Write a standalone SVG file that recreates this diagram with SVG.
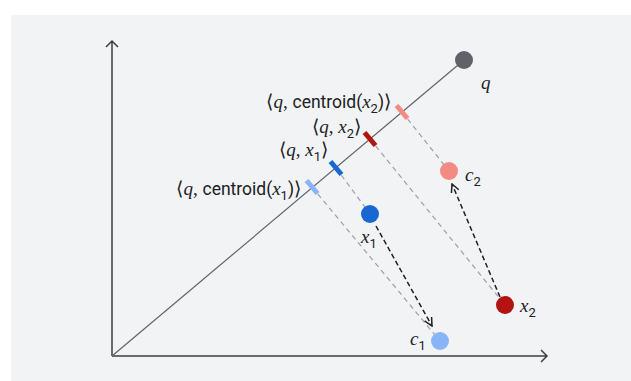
<svg xmlns="http://www.w3.org/2000/svg" width="631" height="381" viewBox="0 0 631 381">
<defs>
<style>
.axis{stroke:#3c4043;stroke-width:1.5;fill:none}
.diag{stroke:#5f6368;stroke-width:1.2;fill:none}
.proj{stroke:#9aa0a6;stroke-width:1.2;stroke-dasharray:5 4;fill:none}
.move{stroke:#202124;stroke-width:1.5;stroke-dasharray:5 3;fill:none}
.tick{stroke-width:5;fill:none}
.m{font-family:"Liberation Serif",serif;font-style:italic;font-size:19px;fill:#202124}
.s{font-family:Roboto,"Liberation Sans",sans-serif;font-style:normal;font-size:17.5px;fill:#202124}
.b{font-family:"Liberation Serif",serif;font-style:normal;font-size:19px;fill:#202124}
.sub{font-family:Roboto,"Liberation Sans",sans-serif;font-style:normal;font-size:13px;fill:#202124}
</style>
<marker id="ah" viewBox="0 0 10 10" refX="9" refY="5" markerWidth="10" markerHeight="10" markerUnits="userSpaceOnUse" orient="auto">
<path d="M1,1 L9,5 L1,9" fill="none" stroke="#202124" stroke-width="1.5"/>
</marker>
</defs>
<rect x="0" y="0" width="631" height="381" fill="#ffffff"/>
<rect x="11" y="15" width="620" height="366" fill="#f1f3f4"/>
<g id="axes">
<path class="axis" d="M112,356 V41 M106,47 L112,41 L118,47"/>
<path class="axis" d="M112,356 H547 M541,350 L547,356 L541,362"/>
</g>
<g id="connectors">
<line class="diag" x1="112" y1="356" x2="464" y2="60"/>
<line class="proj" x1="312" y1="187" x2="440" y2="341"/>
<line class="proj" x1="336" y1="168" x2="370" y2="214"/>
<line class="proj" x1="370" y1="139" x2="505" y2="305"/>
<line class="proj" x1="402" y1="112" x2="449" y2="171"/>
<line class="move" x1="376" y1="226" x2="432" y2="326" marker-end="url(#ah)"/>
<line class="move" x1="500" y1="297" x2="452" y2="184" marker-end="url(#ah)"/>
</g>
<g id="ticks">
<line class="tick" stroke="#8ab4f8" x1="306.5" y1="180.5" x2="317.5" y2="193.5"/>
<line class="tick" stroke="#1967d2" x1="330.5" y1="161.5" x2="341.5" y2="174.5"/>
<line class="tick" stroke="#b31412" x1="364.5" y1="132.5" x2="375.5" y2="145.5"/>
<line class="tick" stroke="#f28b82" x1="396.5" y1="105.5" x2="407.5" y2="118.5"/>
</g>
<g id="q">
<circle cx="464" cy="60" r="9" fill="#5f6368"/>
<text class="m" x="481" y="89">q</text>
</g>
<g id="x1">
<circle cx="370" cy="214" r="9" fill="#1967d2"/>
<text class="m" x="361" y="243">x<tspan class="sub" dy="5">1</tspan></text>
</g>
<g id="c1">
<circle cx="440" cy="341" r="9" fill="#8ab4f8"/>
<text class="m" x="410" y="345">c<tspan class="sub" dy="5">1</tspan></text>
</g>
<g id="x2">
<circle cx="505" cy="305" r="9" fill="#b31412"/>
<text class="m" x="520" y="312">x<tspan class="sub" dy="5">2</tspan></text>
</g>
<g id="c2">
<circle cx="449" cy="171" r="9" fill="#f28b82"/>
<text class="m" x="465" y="181">c<tspan class="sub" dy="5">2</tspan></text>
</g>
<g id="label-centroid-x2">
<text class="b" x="391" y="108" text-anchor="end">⟨<tspan class="m">q</tspan>, <tspan class="s">centroid(</tspan><tspan class="m">x</tspan><tspan class="sub" dy="5">2</tspan><tspan class="s" dy="-5">)</tspan>⟩</text>
</g>
<g id="label-x2">
<text class="b" x="361" y="133" text-anchor="end">⟨<tspan class="m">q</tspan>, <tspan class="m">x</tspan><tspan class="sub" dy="5">2</tspan><tspan dy="-5">⟩</tspan></text>
</g>
<g id="label-x1">
<text class="b" x="328" y="156" text-anchor="end">⟨<tspan class="m">q</tspan>, <tspan class="m">x</tspan><tspan class="sub" dy="5">1</tspan><tspan dy="-5">⟩</tspan></text>
</g>
<g id="label-centroid-x1">
<text class="b" x="301" y="195" text-anchor="end">⟨<tspan class="m">q</tspan>, <tspan class="s">centroid(</tspan><tspan class="m">x</tspan><tspan class="sub" dy="5">1</tspan><tspan class="s" dy="-5">)</tspan>⟩</text>
</g>
</svg>
